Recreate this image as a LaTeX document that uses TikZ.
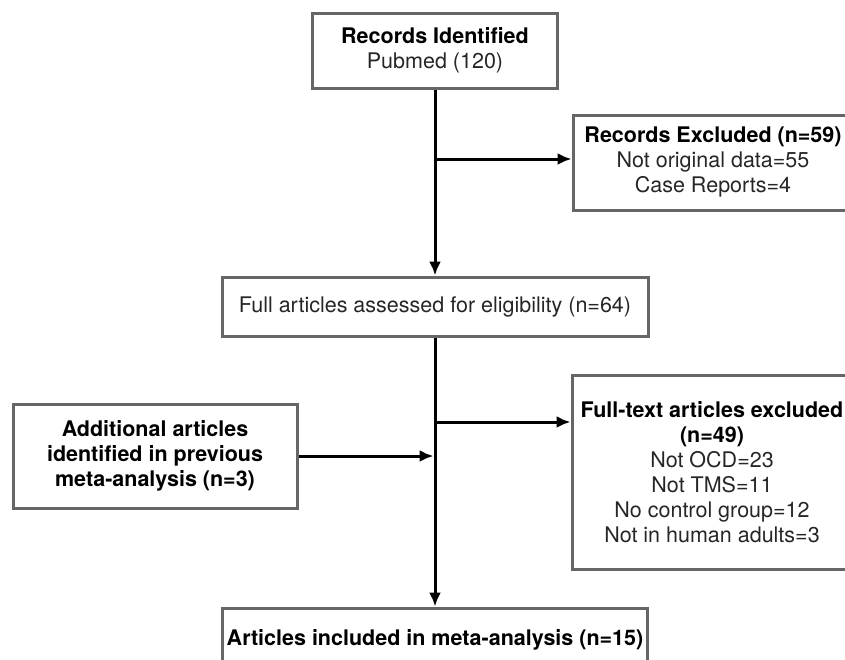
\documentclass[tikz,border=0pt]{standalone}
\usepackage{fontspec}
\setmainfont{TeX Gyre Heros}
\usetikzlibrary{arrows.meta, positioning, calc}
\tikzset{
    box/.style={
        draw=black!60,
        line width=3pt,
        align=center,
        inner sep=0pt,
        text=black!85
    },
    line/.style={-{Latex[length=14pt,width=12pt]}, line width=3pt},
    every node/.style={font=\fontsize{21.5}{25}\selectfont}
}
\begin{document}
\begin{tikzpicture}[x=1pt,y=-1pt]
\useasboundingbox (0,0) rectangle (845,659);

% Identification
\node[box, minimum width=245pt, minimum height=75pt] (ident) at (435,50.5)
    {\textbf{\color{black}Records Identified}\\Pubmed (120)};
\node[box, minimum width=280pt, minimum height=95pt] (excl1) at (713,162.5)
    {\textbf{\color{black}Records Excluded (n=59)}\\Not original data=55\\Case Reports=4};

% Eligibility
\node[box, minimum width=426pt, minimum height=59pt] (full) at (435,306.5)
    {Full articles assessed for eligibility (n=64)};
\node[box, minimum width=280pt, minimum height=194pt] (ftexcl) at (712,472)
    {\textbf{\color{black}Full-text articles excluded}\\\textbf{\color{black}(n=49)}\\Not OCD=23\\Not TMS=11\\No control group=12\\Not in human adults=3};
\node[box, minimum width=284pt, minimum height=104pt] (add) at (155,456)
    {\textbf{\color{black}Additional articles}\\\textbf{\color{black}identified in previous}\\\textbf{\color{black}meta-analysis (n=3)}};

% Included
\node[box, minimum width=425pt, minimum height=64pt] (incl) at (435,640)
    {\textbf{\color{black}Articles included in meta-analysis (n=15)}};

\coordinate (j1) at (435,159);
\coordinate (j2) at (435,422);

\draw[line] (ident.south) -- (full.north);
\draw[line] (j1) -- (j1 -| excl1.west);
\draw[line] (full.south) -- (incl.north);
\draw[line] (j2) -- (j2 -| ftexcl.west);
\draw[line, shorten >=1.5pt] (add.east) -- (add.east -| full.south);
\end{tikzpicture}
\end{document}
